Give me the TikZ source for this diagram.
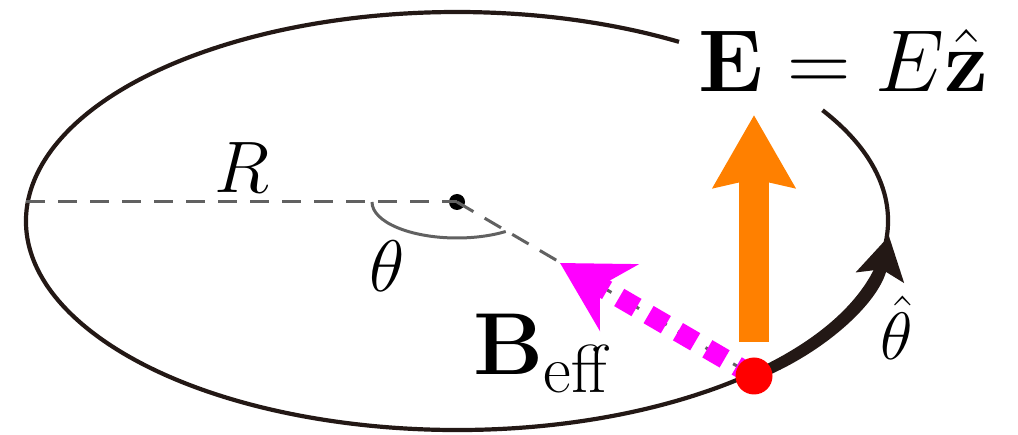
\RequirePackage{fix-cm}
\documentclass[tikz,border=0pt]{standalone}
\usetikzlibrary{arrows.meta}
\definecolor{inkblack}{HTML}{231815}
\definecolor{dashgray}{gray}{0.38}
\definecolor{eorange}{HTML}{FF8000}
\definecolor{bmagenta}{HTML}{FF00FF}
\tikzset{
  thinring/.style={draw=inkblack, line width=4.2pt},
  dashline/.style={draw=dashgray, line width=3pt, dash pattern=on 19pt off 13pt},
  anglearc/.style={draw=dashgray, line width=3pt},
  fieldarrow/.style={draw=eorange, line width=30pt, -{Stealth[length=72pt,width=80pt,inset=8pt]}},
  beffarrow/.style={draw=bmagenta, line width=20pt, dash pattern=on 20pt off 14pt, -{Stealth[length=68pt,width=76pt,inset=22pt,fill=bmagenta]}},
  thetaarrow/.style={draw=inkblack, line width=10pt, -{Stealth[length=42pt,width=48pt,inset=8pt]}},
  lbl/.style={inner sep=0pt, text=black},
}
\begin{document}
\begin{tikzpicture}[x=1pt,y=-1pt]
\useasboundingbox (0,0) rectangle (1018,435);
% ellipse with gap for the label
\coordinate (ec) at (457,221);
\path (ec) ++(328:431 and 209) coordinate (gapend);
\draw[thinring] (gapend) arc[start angle=328, end angle=661, x radius=431, y radius=209];
% points
\coordinate (lft) at (26,202);
\node[circle, fill=black, inner sep=0pt, minimum size=16pt] (c) at (457,202) {};
\coordinate (pp) at (754,376);
% dashed radius lines
\draw[dashline] (lft) -- (c.center);
\draw[dashline] (c.center) -- (pp);
% angle arc
\draw[anglearc] (372,202) arc[start angle=180, end angle=55, x radius=85, y radius=36];
% theta-hat arrow along the ring
\coordinate (ttip) at (889,236);
\draw[thetaarrow] (pp) .. controls (820,350) and (875,300) .. (ttip);
% fields
\coordinate (obase) at (754,342);
\coordinate (otip) at (754,115);
\draw[fieldarrow] (obase) -- (otip);
\coordinate (mtip) at (560,263);
\draw[beffarrow] (pp) -- (mtip);
\node[circle, fill=red, inner sep=0pt, minimum size=37pt] (p) at (pp) {};
% labels
\node[lbl, anchor=base] (lR) at (242,193) {\fontsize{73}{80}\selectfont $R$};
\node[lbl, anchor=base] (lth) at (387,292) {\fontsize{73}{80}\selectfont $\theta$};
\node[lbl, anchor=base west] (lB) at (473,375) {\fontsize{88}{96}\selectfont $\mathbf{B}_{\mbox{\fontsize{68}{70}\selectfont eff}}$};
\node[lbl, anchor=base west] (lE) at (698,92) {\fontsize{88}{96}\selectfont $\mathbf{E}=E\hat{\mathbf{z}}$};
\node[lbl, anchor=base] (lth2) at (897,360) {\fontsize{67}{72}\selectfont $\hat{\theta}$};
\end{tikzpicture}
\end{document}
